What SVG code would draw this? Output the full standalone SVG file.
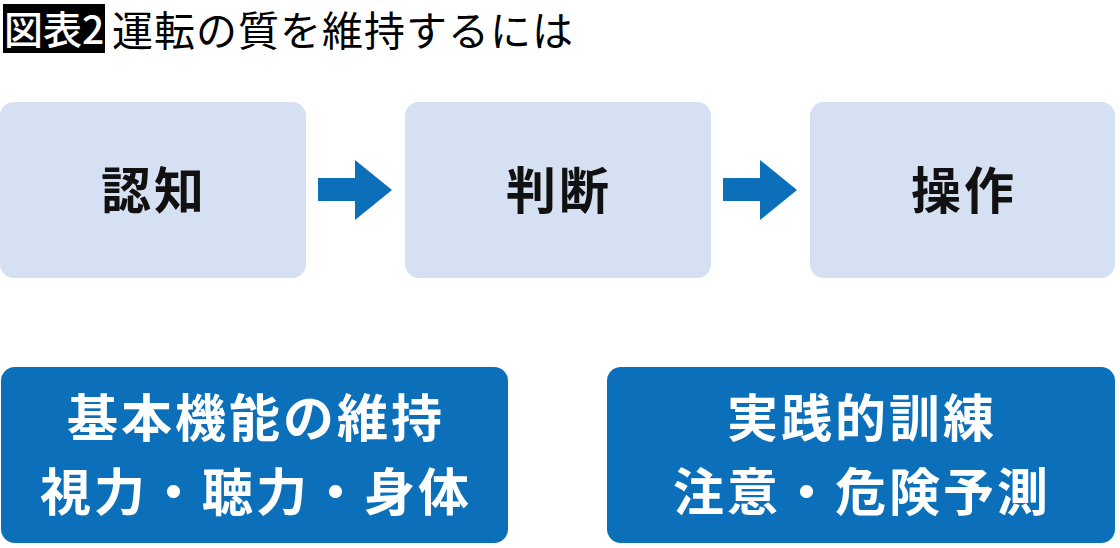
<svg xmlns="http://www.w3.org/2000/svg" width="1120" height="548" viewBox="0 0 1120 548">
<defs>
<style>
.t{font-family:"Noto Sans CJK JP","Noto Sans CJK SC",sans-serif;}
.lb{fill:#d6e0f3;}
.db{fill:#0b6fba;}
.lt{font-size:50px;font-weight:700;fill:#111;text-anchor:middle;letter-spacing:3px;}
.dt{font-size:51px;font-weight:700;fill:#fff;text-anchor:middle;letter-spacing:3px;}
.arr{fill:#0b6fba;}
</style>
</defs>
<rect width="1120" height="548" fill="#fff"/>
<g id="title">
<rect x="3" y="4" width="102" height="49" fill="#000"/>
<text class="t" x="54" y="44" font-size="39" font-weight="500" fill="#fff" text-anchor="middle">図表2</text>
<text class="t" x="112" y="46" font-size="41" font-weight="400" fill="#000" letter-spacing="1">運転の質を維持するには</text>
</g>
<g id="node-ninchi">
<rect class="lb" x="0" y="102" width="306" height="176" rx="14"/>
<text class="t lt" x="154" y="209">認知</text>
</g>
<g id="node-handan">
<rect class="lb" x="405" y="102" width="306" height="176" rx="14"/>
<text class="t lt" x="559" y="209">判断</text>
</g>
<g id="node-sousa">
<rect class="lb" x="810" y="102" width="305" height="176" rx="14"/>
<text class="t lt" x="964" y="209">操作</text>
</g>
<g id="connectors">
<polygon class="arr" points="318,178 355,178 355,160 392,190 355,220 355,201 318,201"/>
<polygon class="arr" points="723,178 760,178 760,160 797,190 760,220 760,201 723,201"/>
</g>
<g id="node-kihon">
<rect class="db" x="1" y="367" width="507" height="176" rx="14"/>
<text class="t dt" x="256" y="437">基本機能の維持</text>
<text class="t dt" x="256" y="511">視力・聴力・身体</text>
</g>
<g id="node-jissen">
<rect class="db" x="607" y="367" width="508" height="176" rx="14"/>
<text class="t dt" x="862" y="437">実践的訓練</text>
<text class="t dt" x="862" y="511">注意・危険予測</text>
</g>
</svg>
